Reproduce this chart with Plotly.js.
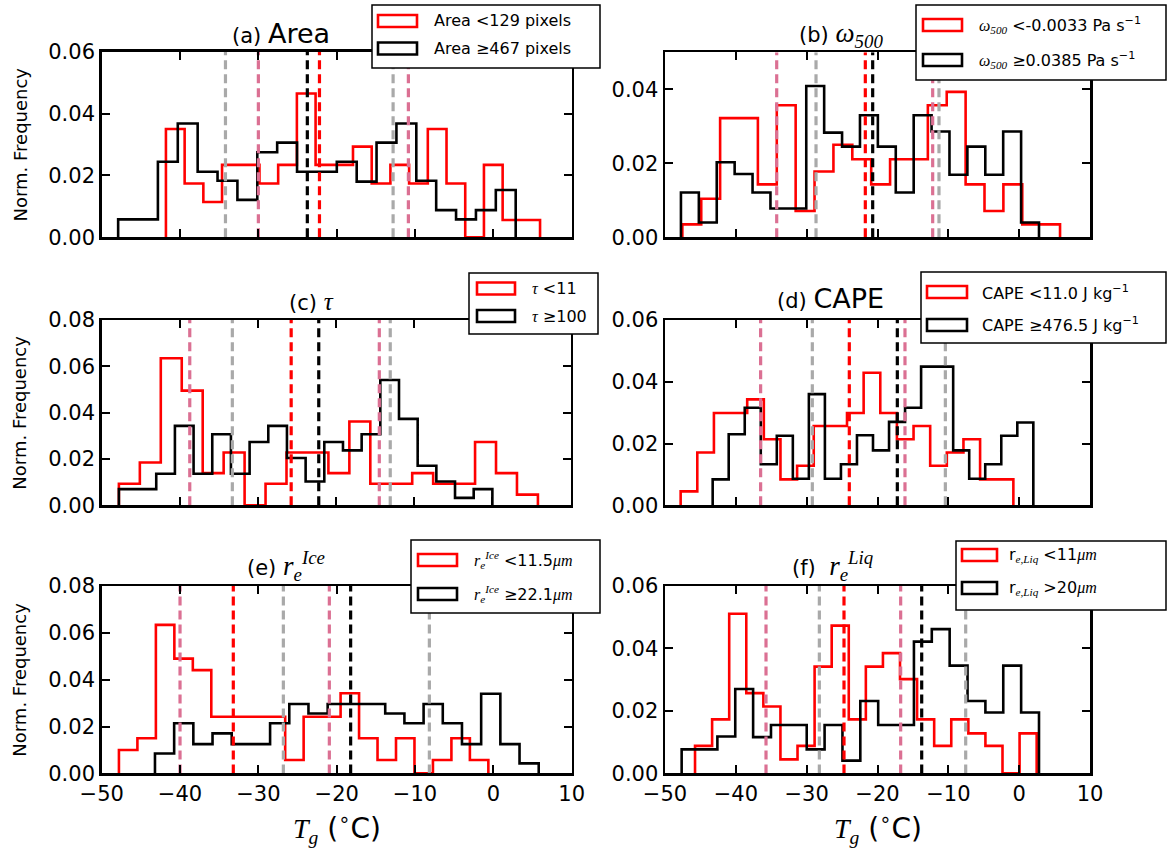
<!DOCTYPE html>
<html>
<head>
<meta charset="utf-8">
<script src="https://cdn.plot.ly/plotly-3.0.1.min.js"></script>
<style>html,body{margin:0;padding:0;background:#fff;}#chart{width:1169px;height:855px;}</style>
</head>
<body>
<div id="chart"></div>
<script>
// ---------------- DATA ----------------
const xTickVals = [-50, -40, -30, -20, -10, 0, 10];
const xTickText = ['\u221250', '\u221240', '\u221230', '\u221220', '\u221210', '0', '10'];
const nBins = 20;

// (a) Area
const redRangeA = [-41.8, 5.96];
const redA = [0.035,0.0174,0.0114,0.0234,0.0234,0.0174,0.0234,0.0465,0.0234,0.0234,0.0293,0.0174,0.0234,0.0174,0.035,0.0174,0,0.0234,0.0056,0.0056];
const blackRangeA = [-47.9, 2.85];
const blackA = [0.0058,0.0058,0.0244,0.0368,0.0212,0.0183,0.0121,0.0275,0.0306,0.0212,0.0212,0.0244,0.018,0.0306,0.0368,0.0183,0.0088,0.0058,0.0088,0.0153];
const pinkA = [-30.0, -10.85], greyA = [-34.2, -12.8], redMedA = -22.2, blackMedA = -23.75;

// (b) omega500
const redRangeB = [-47.55, 5.77];
const redB = [0.0035,0.0104,0.0322,0.0322,0.0143,0.0357,0.0071,0.0178,0.025,0.0211,0.0143,0.0211,0.0211,0.0357,0.0393,0.0143,0.0071,0.0143,0.0035,0.0035];
const blackRangeB = [-47.75, 2.8];
const blackB = [0.0121,0.004,0.0203,0.0171,0.0121,0.0078,0.0078,0.0409,0.0283,0.0245,0.033,0.0245,0.0121,0.033,0.0286,0.0169,0.0245,0.0169,0.0286,0.004];
const pinkB = [-34.23, -12.21], greyB = [-28.68, -11.32], redMedB = -21.72, blackMedB = -20.68;

// (c) tau
const redRangeC = [-47.8, 5.83];
const redC = [0.0093,0.0185,0.0635,0.0495,0.0139,0.0228,0,0.0093,0.0228,0.0228,0.0139,0.0362,0.0093,0.0093,0.0139,0.0093,0.0093,0.0273,0.0139,0.0046];
const blackRangeC = [-47.8, 0.0];
const blackC = [0.007,0.007,0.0136,0.0343,0.0136,0.0307,0.0136,0.0273,0.0343,0.0204,0.0103,0.0273,0.0237,0.0307,0.0541,0.0373,0.0171,0.0103,0.0032,0.007];
const pinkC = [-38.73, -14.47], greyC = [-33.28, -13.07], redMedC = -25.75, blackMedC = -22.22;

// (d) CAPE
const redRangeD = [-47.79, -0.82];
const redD = [0.0045,0.0171,0.0299,0.0299,0.0343,0.0214,0.0084,0.0128,0.0257,0.0257,0.0299,0.0429,0.0299,0.0214,0.0257,0.0128,0.0171,0.0214,0.0084,0.0084];
const blackRangeD = [-43.27, 2.0];
const blackD = [0.0084,0.023,0.0316,0.0133,0.0225,0.0086,0.036,0.0086,0.0133,0.0227,0.0178,0.027,0.0316,0.0449,0.0449,0.0178,0.0086,0.0133,0.0225,0.0268];
const pinkD = [-36.5, -16.12], greyD = [-29.2, -10.42], redMedD = -23.98, blackMedD = -17.2;

// (e) r_e Ice
const redRangeE = [-47.8, -0.64];
const redE = [0.01,0.015,0.0634,0.049,0.0441,0.0242,0.0242,0.0242,0.0242,0.0057,0.0242,0.0242,0.0342,0.015,0.0057,0.015,0,0.0057,0.015,0.0057];
const blackRangeE = [-43.2, 5.79];
const blackE = [0.0085,0.0214,0.0125,0.0171,0.0125,0.0125,0.0214,0.0296,0.0256,0.0296,0.0296,0.0296,0.0256,0.0214,0.0296,0.0214,0.0125,0.034,0.0125,0.0043];
const pinkE = [-40.0, -20.94], greyE = [-26.81, -8.17], redMedE = -33.2, blackMedE = -18.22;

// (f) r_e Liq
const redRangeF = [-45.76, 2.47];
const redF = [0.0088,0.0173,0.0511,0.0257,0.0214,0.0045,0.0088,0.0342,0.0473,0.0173,0.0342,0.0385,0.0302,0.0173,0.0088,0.0173,0.0128,0.0088,0,0.0128];
const blackRangeF = [-47.65, 2.8];
const blackF = [0.0077,0.0077,0.0118,0.027,0.0116,0.0155,0.0155,0.0077,0.0155,0.0041,0.0232,0.0155,0.0155,0.0422,0.0462,0.0345,0.0232,0.0195,0.0345,0.0195];
const pinkF = [-35.74, -16.73], greyF = [-28.21, -7.55], redMedF = -24.73, blackMedF = -13.76;

const yMaxes = [0.06, 0.05, 0.08, 0.06, 0.08, 0.06];

// ---------------- TEXT ----------------
const SANS = 'DejaVu Sans';
const it = s => '<span style="font-family:Liberation Serif;font-style:italic">' + s + '</span>';
const panelTitles = [
  '<span style="font-size:21px">(a)</span> <span style="font-size:27px">Area</span>',
  '<span style="font-size:21px">(b)</span> <span style="font-size:27px">' + it('\u03c9') + '<sub>' + it('500') + '</sub></span>',
  '<span style="font-size:21px">(c)</span> <span style="font-size:25px">' + it('\u03c4') + '</span>',
  '<span style="font-size:21px">(d)</span> <span style="font-size:27px">CAPE</span>',
  '<span style="font-size:21px">(e)</span> <span style="font-size:27px">' + it('r') + '<sub>' + it('e') + '</sub><sup>' + it('Ice') + '</sup></span>',
  '<span style="font-size:21px">(f)</span>  <span style="font-size:27px">' + it('r') + '<sub>' + it('e') + '</sub><sup>' + it('Liq') + '</sup></span>'
];
const redNames = [
  'Area &lt;129 pixels',
  it('\u03c9') + '<sub>' + it('500') + '</sub> &lt;-0.0033 Pa s<sup>\u22121</sup>',
  it('\u03c4') + ' &lt;11',
  'CAPE &lt;11.0 J kg<sup>\u22121</sup>',
  it('r') + '<sub>' + it('e') + '</sub><sup>' + it('Ice') + '</sup> &lt;11.5' + it('\u03bcm'),
  'r<sub>' + it('e,Liq') + '</sub> &lt;11' + it('\u03bcm')
];
const blackNames = [
  'Area \u2265467 pixels',
  it('\u03c9') + '<sub>' + it('500') + '</sub> \u22650.0385 Pa s<sup>\u22121</sup>',
  it('\u03c4') + ' \u2265100',
  'CAPE \u2265476.5 J kg<sup>\u22121</sup>',
  it('r') + '<sub>' + it('e') + '</sub><sup>' + it('Ice') + '</sup> \u226522.1' + it('\u03bcm'),
  'r<sub>' + it('e,Liq') + '</sub> &gt;20' + it('\u03bcm')
];
const yTitle = 'Norm. Frequency';
const xTitle = it('T') + '<sub>' + it('g') + '</sub> (<sup>\u2218</sup>C)';

// ---------------- BUILD ----------------
const W = 1169, H = 855;
const px = x => x / W;
const py = y => 1 - y / H;

const panels = [
  {red: redA, rr: redRangeA, black: blackA, br: blackRangeA, pink: pinkA, grey: greyA, rm: redMedA, bm: blackMedA},
  {red: redB, rr: redRangeB, black: blackB, br: blackRangeB, pink: pinkB, grey: greyB, rm: redMedB, bm: blackMedB},
  {red: redC, rr: redRangeC, black: blackC, br: blackRangeC, pink: pinkC, grey: greyC, rm: redMedC, bm: blackMedC},
  {red: redD, rr: redRangeD, black: blackD, br: blackRangeD, pink: pinkD, grey: greyD, rm: redMedD, bm: blackMedD},
  {red: redE, rr: redRangeE, black: blackE, br: blackRangeE, pink: pinkE, grey: greyE, rm: redMedE, bm: blackMedE},
  {red: redF, rr: redRangeF, black: blackF, br: blackRangeF, pink: pinkF, grey: greyF, rm: redMedF, bm: blackMedF}
];

// axes pixel boxes [left, top, right, bottom]
const boxes = [
  [101.7, 51.7, 571.7, 237.3],
  [665, 52.3, 1090, 237.3],
  [101.7, 320, 570.5, 505.3],
  [665, 320, 1090, 505.3],
  [101.7, 586, 571.7, 773.4],
  [665, 586, 1090, 773.4]
];

function stepTrace(h, range, color, xa, ya) {
  const w = (range[1] - range[0]) / nBins;
  const xs = [range[0]], ys = [0];
  for (let i = 0; i < h.length; i++) { xs.push(range[0] + i * w); ys.push(h[i]); }
  xs.push(range[1]); ys.push(0);
  return {type: 'scatter', mode: 'lines', x: xs, y: ys, xaxis: xa, yaxis: ya,
    line: {shape: 'hv', color: color, width: 2.6}, hoverinfo: 'skip', showlegend: false};
}
function vline(x, ymax, color, xa, ya) {
  return {type: 'scatter', mode: 'lines', x: [x, x], y: [0, ymax], xaxis: xa, yaxis: ya,
    line: {color: color, width: 3.2, dash: '9px,5px'}, hoverinfo: 'skip', showlegend: false};
}

const traces = [];
const layout = {
  width: W, height: H, margin: {l: 0, r: 0, t: 0, b: 0},
  paper_bgcolor: '#fff', plot_bgcolor: '#fff', showlegend: false,
  font: {family: SANS, color: '#000'},
  shapes: [], annotations: []
};
const GREY = '#a9a9a9', PINK = '#db7093';

panels.forEach((p, i) => {
  const n = i + 1;
  const xa = n === 1 ? 'x' : 'x' + n, ya = n === 1 ? 'y' : 'y' + n;
  const xk = n === 1 ? 'xaxis' : 'xaxis' + n, yk = n === 1 ? 'yaxis' : 'yaxis' + n;
  const b = boxes[i], ym = yMaxes[i];
  traces.push(stepTrace(p.red, p.rr, '#ff0000', xa, ya));
  traces.push(stepTrace(p.black, p.br, '#000000', xa, ya));
  p.grey.forEach(v => traces.push(vline(v, ym, GREY, xa, ya)));
  p.pink.forEach(v => traces.push(vline(v, ym, PINK, xa, ya)));
  traces.push(vline(p.rm, ym, '#ff0000', xa, ya));
  traces.push(vline(p.bm, ym, '#000000', xa, ya));
  const common = {showline: true, linecolor: '#000', linewidth: 2.5, mirror: 'ticks', ticks: 'inside',
    ticklen: 8, tickwidth: 2, tickcolor: '#000', showgrid: false, zeroline: false,
    tickfont: {family: SANS, size: 21, color: '#000'}, fixedrange: true};
  layout[xk] = Object.assign({}, common, {domain: [px(b[0]), px(b[2])], range: [-50, 10],
    tickvals: xTickVals, ticktext: xTickText, showticklabels: i >= 4, anchor: ya});
  layout[yk] = Object.assign({}, common, {domain: [py(b[3]), py(b[1])], range: [0, ym],
    dtick: 0.02, tick0: 0, tickformat: '.2f', anchor: xa});
});

// titles
const titlePos = [[230, 34], [797, 35], [287, 301], [775, 298], [245, 566], [790, 566]];
panelTitles.forEach((t, i) => {
  layout.annotations.push({text: t, xref: 'paper', yref: 'paper', x: px(titlePos[i][0]), y: py(titlePos[i][1]),
    xanchor: 'left', yanchor: 'middle', showarrow: false, font: {family: SANS, size: 21, color: '#000'}});
});

// legends
const legends = [
  {box: [372, 5, 600, 68], sx: [378, 417], rows: [21, 48.5], tx: 432},
  {box: [916, 5, 1166, 80], sx: [923, 962], rows: [25, 60], tx: 977},
  {box: [469, 273, 598, 334], sx: [477, 515], rows: [288.5, 316], tx: 530},
  {box: [921, 272, 1166, 343], sx: [927, 967], rows: [292, 325], tx: 980},
  {box: [411, 540, 600, 613], sx: [418, 457], rows: [560, 594], tx: 472},
  {box: [956, 541, 1166, 610], sx: [962, 997], rows: [555, 588], tx: 1007}
];
legends.forEach((L, i) => {
  layout.shapes.push({type: 'rect', xref: 'paper', yref: 'paper', layer: 'above',
    x0: px(L.box[0]), x1: px(L.box[2]), y0: py(L.box[3]), y1: py(L.box[1]),
    line: {color: '#000', width: 1.5}, fillcolor: '#fff'});
  [['#ff0000', redNames[i]], ['#000000', blackNames[i]]].forEach((r, j) => {
    const yc = L.rows[j];
    layout.shapes.push({type: 'rect', xref: 'paper', yref: 'paper', layer: 'above',
      x0: px(L.sx[0]), x1: px(L.sx[1]), y0: py(yc + 6), y1: py(yc - 6),
      line: {color: r[0], width: 2.6}, fillcolor: 'rgba(0,0,0,0)'});
    layout.annotations.push({text: r[1], xref: 'paper', yref: 'paper', x: px(L.tx), y: py(yc),
      xanchor: 'left', yanchor: 'middle', showarrow: false, font: {family: SANS, size: 16, color: '#000'}});
  });
});

// y axis titles (left column)
[0, 2, 4].forEach(i => {
  const b = boxes[i];
  layout.annotations.push({text: yTitle, xref: 'paper', yref: 'paper', x: px(20), y: py((b[1] + b[3]) / 2),
    xanchor: 'center', yanchor: 'middle', textangle: -90, showarrow: false, font: {family: SANS, size: 18, color: '#000'}});
});
// x axis titles (bottom row)
[4, 5].forEach(i => {
  const b = boxes[i];
  layout.annotations.push({text: xTitle, xref: 'paper', yref: 'paper', x: px((b[0] + b[2]) / 2), y: py(828),
    xanchor: 'center', yanchor: 'middle', showarrow: false, font: {family: SANS, size: 28, color: '#000'}});
});

Plotly.newPlot('chart', traces, layout, {displayModeBar: false, staticPlot: true});
</script>
</body>
</html>
